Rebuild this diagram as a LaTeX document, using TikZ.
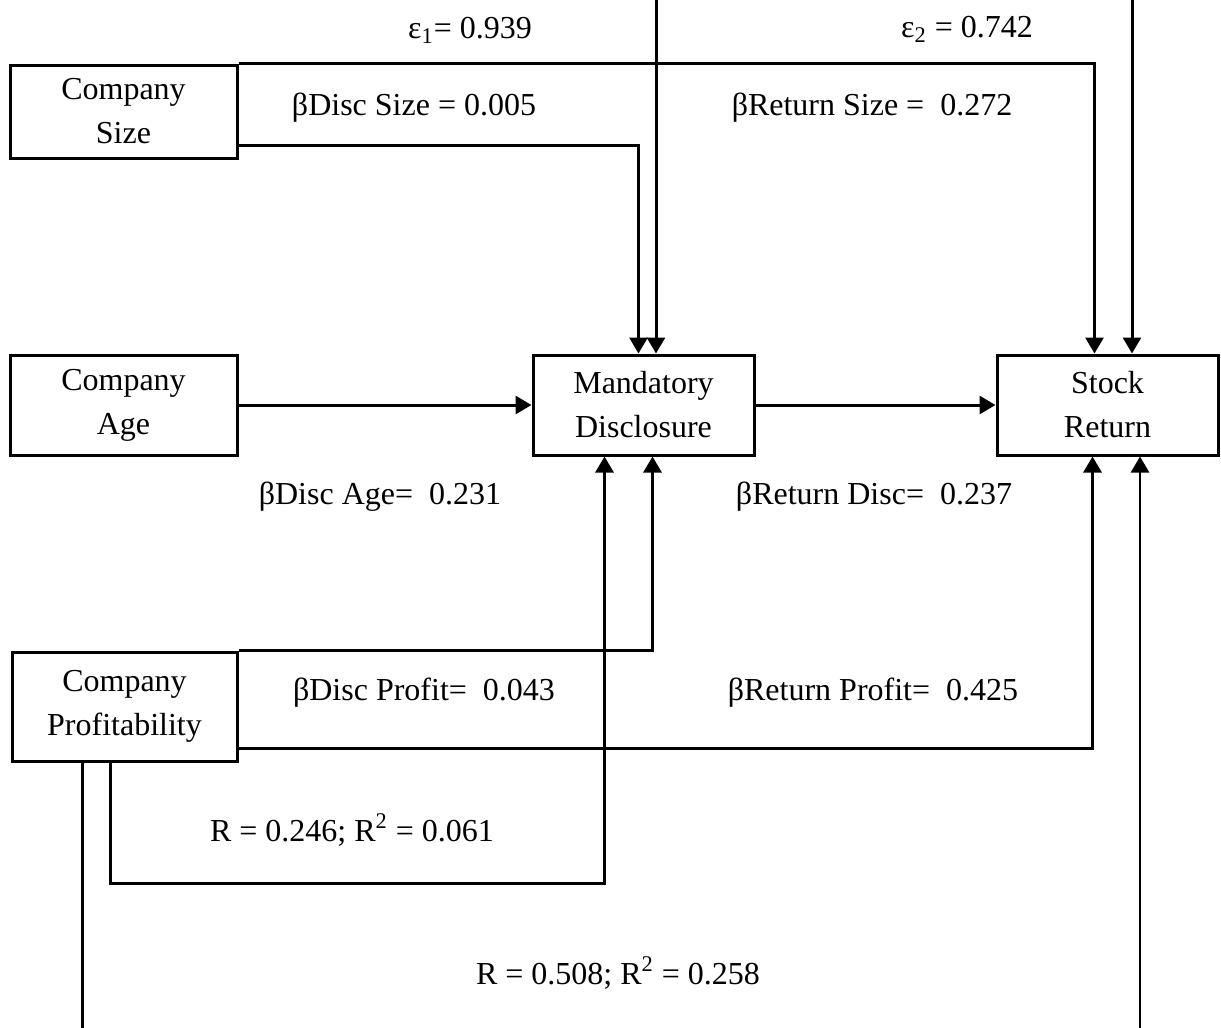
\documentclass[tikz,border=0pt]{standalone}
\usepackage{fontspec}
\setmainfont{Liberation Serif}
\usepackage{tikz}
\usetikzlibrary{arrows.meta,positioning,calc}

\begin{document}
\begin{tikzpicture}[
      x=0.5pt, y=-0.5pt,
      font=\fontsize{16}{22}\selectfont,
      var/.style={draw, align=center, line width=1.5pt, inner sep=0pt},
      path/.style={line width=1.5pt},
      lbl/.style={inner sep=0pt},
      >={Triangle[length=8pt,width=9pt]}]

    \useasboundingbox (0,0) rectangle (1221,1028);

    \node[var, minimum width=113.5pt, minimum height=46.5pt] (size) at (123.5,111.5)
      {Company\\Size};
    \node[var, minimum width=113.5pt, minimum height=50pt] (age) at (123.5,405)
      {Company\\Age};
    \node[var, minimum width=112.5pt, minimum height=54.5pt] (prof) at (124.5,706.5)
      {Company\\Profitability};
    \node[var, minimum width=110.5pt, minimum height=50pt] (disc) at (643.5,405)
      {Mandatory\\Disclosure};
    \node[var, minimum width=110.5pt, minimum height=50pt] (ret) at (1107.5,405)
      {Stock\\Return};

    \coordinate (e1top) at (656,0);
    \coordinate (e2top) at (1132,0);
    \coordinate (rbot) at (1140,1028);

    % error terms
    \draw[path, ->] (e1top) -- (e1top |- disc.north);
    \draw[path, ->] (e2top) -- (e2top |- ret.north);

    % size paths
    \draw[path, ->] (size.north east) -| ($(ret.north west)+(99,0)$);
    \draw[path, ->] ($(size.south east)+(0,-14)$) -| ($(disc.north west)+(107,0)$);

    % age and disclosure
    \draw[path, ->] (age) -- (disc);
    \draw[path, ->] (disc) -- (ret);

    % profitability paths
    \draw[path, ->] (prof.north east) -| ($(disc.south west)+(121,0)$);
    \draw[path, ->] ($(prof.south east)+(0,-14)$) -| ($(ret.south west)+(97,0)$);
    \draw[path, ->] ($(prof.south west)+(100,0)$) -- ++(0,121) -| ($(disc.south west)+(73,0)$);
    \draw[line width=1.2pt] ($(prof.south west)+(72,0)$) -- ++(0,267);
    \draw[line width=1.2pt, ->] (rbot) -- (rbot |- ret.south);

    \node[lbl] (le1) at (470,30) {ε\textsubscript{1}= 0.939};
    \node[lbl] (le2) at (967,29) {ε\textsubscript{2} = 0.742};
    \node[lbl] (lds) at (414,108) {βDisc Size = 0.005};
    \node[lbl] (lrs) at (872,108) {βReturn Size =~ 0.272};
    \node[lbl] (lda) at (380,497) {βDisc Age=~ 0.231};
    \node[lbl] (lrd) at (874,497) {βReturn Disc=~ 0.237};
    \node[lbl] (ldp) at (424,693) {βDisc Profit=~ 0.043};
    \node[lbl] (lrp) at (873,693) {βReturn Profit=~ 0.425};
    \node[lbl] (r1) at (352,830) {R = 0.246; R\textsuperscript{2} = 0.061};
    \node[lbl] (r2) at (618,973) {R = 0.508; R\textsuperscript{2} = 0.258};
  \end{tikzpicture}
\end{document}
